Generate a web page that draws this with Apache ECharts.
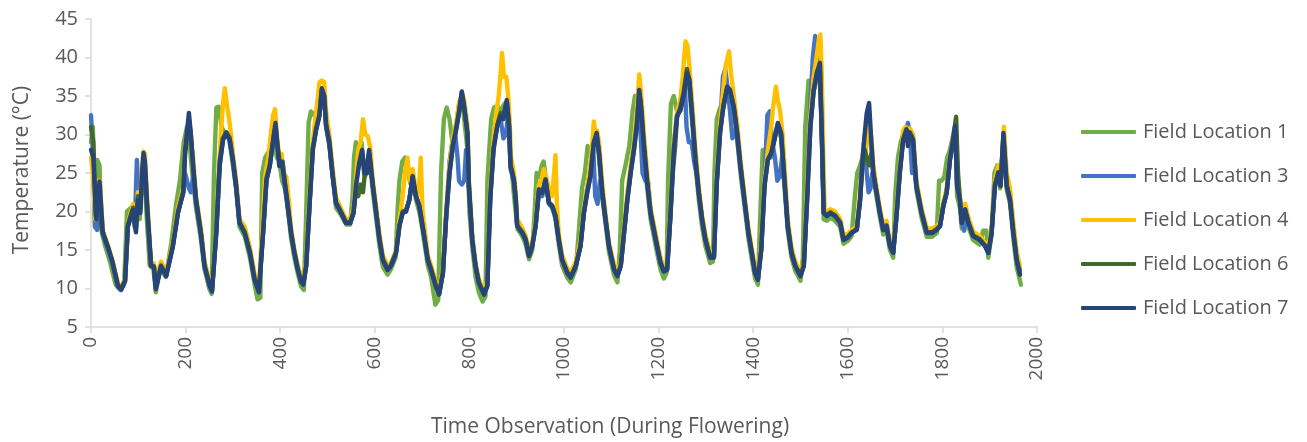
<!DOCTYPE html>
<html>
<head>
<meta charset="utf-8">
<script src="https://cdn.jsdelivr.net/npm/echarts@6/dist/echarts.min.js"></script>
<style>
  html, body { margin: 0; padding: 0; background: #fff; }
  #chart { width: 1307px; height: 442px; }
</style>
</head>
<body>
<div id="chart"></div>
<script>
// Temperature logs from five field locations during flowering: [observation, °C]
const loc1 = [[0,29],[4,31],[8,18],[13,26.7],[18,26],[22,17.5],[30,15.5],[40,13.5],[52,10.5],[62,9.8],[70,10.5],[76,20],[85,20.5],[92,18],[97,21],[103,19],[108,25],[112,26],[117,20],[124,13],[132,12.5],[137,9.5],[146,12.5],[158,11.5],[170,16],[180,21],[188,24],[196,29],[203,31],[208,29],[214,25],[222,20.5],[232,16.5],[240,12.5],[250,10],[255,9.3],[260,25],[265,33.5],[270,33.6],[276,31],[284,30],[292,29.5],[300,26],[307,22.8],[314,18],[325,16.8],[336,14],[346,10.5],[352,8.6],[358,8.8],[362,25],[368,27],[378,28],[386,30],[393,27],[398,26.5],[404,24],[410,23],[416,20.5],[423,16.5],[430,14],[437,12],[444,10.3],[450,9.8],[455,20],[460,31.5],[465,33],[472,32.5],[480,33],[488,35.5],[493,35.5],[498,31],[505,28],[512,24],[518,20.5],[529,19.5],[540,18.3],[548,18.3],[553,22],[556,27],[560,29],[566,28],[572,29],[578,24.5],[584,25],[590,26],[596,22.5],[603,19],[610,15.5],[617,12.8],[627,11.8],[634,12.5],[644,14],[648,20],[652,24],[658,26.5],[664,27],[670,25],[676,23.5],[682,23.5],[687,21.5],[694,20],[701,17.5],[712,13],[719,11.5],[728,7.9],[734,8.5],[740,25],[746,32],[752,33.5],[758,32],[765,28.5],[772,31],[778,34],[784,35],[789,32],[796,28],[800,20],[806,15.5],[813,11.5],[820,9.5],[828,8.3],[834,9],[838,24],[846,32],[852,33.5],[860,33.7],[866,33],[874,34],[880,33],[885,29],[890,25],[896,21],[902,17.7],[912,16.8],[919,15.7],[926,13.8],[933,15],[938,20],[942,25],[948,24.5],[953,26],[957,26.5],[962,24],[968,21],[975,20.5],[982,19],[989,15.7],[996,13],[1007,11.4],[1014,10.8],[1025,12.5],[1032,18],[1038,23],[1044,25],[1050,28.5],[1056,27],[1063,29],[1069,30],[1074,27],[1081,21.8],[1088,18.3],[1095,14.8],[1106,11.7],[1113,10.8],[1118,15],[1123,24],[1130,26],[1138,28.5],[1145,33],[1150,35],[1156,34],[1163,30],[1169,27],[1176,23],[1183,19],[1194,15.5],[1204,12.5],[1211,11.3],[1217,12],[1220,24],[1226,34],[1232,35],[1239,33],[1246,33],[1253,35],[1260,37.5],[1265,36],[1271,31.5],[1278,26],[1285,21.5],[1292,18],[1299,15.5],[1309,13.3],[1315,13.5],[1318,25],[1323,32],[1330,33.5],[1337,33.5],[1345,35.5],[1351,35],[1359,33],[1366,29.5],[1373,25],[1383,20],[1390,16.5],[1397,13.8],[1404,11.3],[1410,10.5],[1414,18],[1420,28],[1425,28],[1431,27],[1438,27],[1445,29.5],[1452,31],[1459,29.5],[1467,22.5],[1473,17.5],[1481,14],[1489,12.3],[1500,11],[1505,14],[1510,31],[1517,37],[1524,36.5],[1530,36],[1536,38],[1541,39],[1546,27],[1549,19],[1556,18.8],[1563,19.2],[1573,18.8],[1584,18],[1591,15.8],[1600,16.2],[1608,16.8],[1615,22],[1620,25],[1626,26],[1631,27],[1636,30],[1640,31],[1645,30],[1650,28],[1654,24.5],[1661,21.8],[1668,19.2],[1675,17],[1682,17.5],[1689,15],[1696,14],[1700,22],[1706,27],[1712,29],[1717,30],[1724,30],[1731,30.5],[1738,29],[1745,22.8],[1756,19.2],[1767,16.7],[1778,16.7],[1788,17.2],[1793,24],[1798,24],[1804,24.5],[1810,27],[1816,28],[1823,30],[1828,31.5],[1831,22],[1837,20.5],[1841,17.8],[1848,19.5],[1855,18],[1865,16.3],[1879,15.7],[1886,17.5],[1893,17.5],[1897,14],[1904,17],[1910,25],[1916,26],[1922,23],[1929,29],[1936,22.8],[1943,21],[1950,16.5],[1957,12.8],[1966,10.5]];

const loc3 = [[0,32.5],[4,28],[9,18],[13,17.6],[18,23.5],[25,17],[35,15.3],[45,13.3],[57,10.2],[64,9.8],[72,11],[78,18],[87,20],[93,19],[97,26.7],[100,26.5],[103,20],[108,24.5],[111,27],[115,25],[120,19],[127,13],[133,12.8],[137,10],[148,13.2],[159,11.8],[173,15.6],[184,20],[195,22.5],[199,25],[203,24],[207,23],[211,22.5],[216,24.5],[222,21],[232,17.5],[240,13.3],[251,10.5],[256,10],[265,17.5],[272,26],[279,29.3],[286,30.2],[293,29.5],[300,26.5],[307,23],[314,18.5],[325,17.5],[336,15],[346,11.5],[355,10],[364,17.5],[371,24],[378,26],[387,30.3],[390,31.3],[395,28],[400,26],[405,26.5],[409,24],[416,20.5],[423,17.3],[430,14.8],[437,12.8],[444,11.5],[449,10.8],[455,13],[462,21],[469,28.5],[476,30.8],[483,32.6],[488,35.7],[493,35],[497,31],[504,28.7],[511,24.5],[518,21],[529,19.8],[539,18.5],[548,18.5],[555,19.8],[560,23.3],[567,26.5],[573,28],[578,25.5],[583,25],[588,27.8],[596,23.3],[603,19.8],[610,16.3],[617,13.8],[627,12.5],[634,13],[645,14.7],[652,18.3],[659,20],[666,20.2],[673,21.5],[680,24.5],[687,22],[694,20.7],[701,18.2],[712,13.8],[719,12.5],[729,10.4],[736,9.4],[744,12],[751,19.5],[758,26.5],[765,29.5],[770,30],[775,27],[778,24],[784,23.5],[789,24],[793,28],[796,27],[799,23],[806,16.3],[813,12.9],[820,10.8],[831,9.4],[838,10.5],[844,22],[851,28.5],[859,31.5],[866,32],[872,29.5],[877,30],[881,32],[884,30.5],[887,25.5],[894,24],[898,21.5],[901,18.2],[912,17.2],[919,16.4],[926,14.3],[933,15.6],[940,18.2],[947,22.5],[954,22],[961,23.8],[968,21.2],[975,20.6],[982,19.3],[989,16.3],[996,13.8],[1007,12.1],[1014,11.5],[1025,13],[1035,15.6],[1042,19.8],[1049,23],[1056,25.5],[1062,28],[1066,22],[1071,21],[1076,24],[1081,22],[1088,18.8],[1095,15.5],[1106,12.5],[1113,11.7],[1120,13],[1127,17.3],[1134,21.8],[1141,25.5],[1148,29],[1153,31],[1158,34],[1162,30],[1166,25],[1172,24],[1178,23.8],[1183,19.8],[1194,16.3],[1204,13.3],[1211,12.3],[1218,12.5],[1225,19.5],[1232,28.5],[1239,32.5],[1246,34],[1251,36.5],[1255,37.5],[1259,31],[1264,29],[1270,29],[1275,26.5],[1280,25],[1285,22.4],[1292,19],[1299,16.4],[1309,14.1],[1317,14.1],[1323,24],[1330,31],[1336,37.5],[1341,38.5],[1346,36],[1351,33],[1356,29.5],[1361,30.5],[1366,29.5],[1373,25.8],[1383,20.7],[1390,17.2],[1397,14.6],[1404,12.1],[1410,11.2],[1417,15.2],[1424,24],[1430,32.5],[1435,33],[1440,29],[1446,27],[1451,24],[1456,24.5],[1461,27],[1467,23],[1473,18.1],[1481,14.7],[1489,13],[1500,11.7],[1507,13],[1514,22],[1521,34],[1526,40],[1531,42.8],[1536,40],[1541,38],[1546,28],[1549,19.8],[1556,19.5],[1563,19.9],[1573,19.5],[1584,18.5],[1591,16.4],[1600,16.7],[1608,17.3],[1619,17.7],[1626,21.5],[1631,26.5],[1636,29],[1640,25],[1644,22.5],[1648,23],[1652,25],[1656,24],[1661,22.4],[1668,19.8],[1675,17.6],[1682,18.1],[1689,15.6],[1696,14.7],[1703,19.5],[1710,25.5],[1717,29.5],[1724,30.8],[1727,31.5],[1731,30.2],[1736,25],[1740,26],[1745,23.3],[1756,19.8],[1767,17.3],[1778,17.3],[1788,17.6],[1795,18.1],[1802,20.7],[1809,22.5],[1816,27],[1823,29.5],[1827,30.5],[1831,23.5],[1837,21.7],[1841,18.6],[1846,17.5],[1850,19.5],[1855,18.6],[1865,16.9],[1879,16.4],[1890,15.6],[1897,14.7],[1904,17.3],[1911,23.4],[1918,25],[1923,23.5],[1929,29.8],[1936,23.5],[1943,21.7],[1950,17.5],[1957,14],[1964,12.5]];

const loc4 = [[0,27],[4,25],[9,19],[14,24],[19,24],[25,17.5],[35,15.7],[45,13.7],[57,10.7],[64,10.2],[72,11.3],[78,18.5],[89,21],[95,18],[99,22.5],[104,21],[108,26],[111,27.8],[114,27.5],[118,22.5],[127,13.3],[133,13.3],[137,11],[148,13.5],[159,12],[173,16],[184,20.5],[195,23],[199,28.5],[207,31],[211,30.8],[216,27],[222,22],[232,18],[240,13.5],[251,10.8],[256,10.2],[265,17.8],[270,25],[275,30.5],[279,34],[283,36],[287,34],[292,32],[296,30],[300,27.5],[307,24],[314,19],[325,18],[336,15.3],[346,11.8],[355,10.2],[362,17.5],[368,24.5],[375,27],[380,30],[385,32.5],[389,33.3],[393,30],[398,27],[403,27.5],[407,25],[413,24.5],[418,21.5],[423,17.8],[430,15],[437,13],[444,11.5],[449,11],[455,13.5],[462,22],[469,29],[474,32],[478,34],[483,36.8],[488,37],[493,36.8],[497,33],[504,29.8],[511,25.5],[518,21.8],[529,20.3],[539,19],[548,19],[555,20.5],[560,24],[565,28],[570,29],[575,32],[580,30],[585,29.8],[590,28.5],[596,24],[603,20.5],[610,17],[617,14.3],[627,13],[634,13.3],[645,15],[652,18.8],[659,22],[664,25],[669,27],[674,24],[680,25.5],[685,23.5],[690,22],[694,23.5],[697,27],[701,20],[712,14.3],[719,13],[729,10.8],[736,9.8],[744,12.5],[751,20],[758,26],[765,29.5],[772,31.5],[778,34],[784,35.3],[789,34.5],[796,31],[799,24],[806,17],[813,13.3],[820,11.2],[831,9.7],[838,11],[844,22.5],[851,29.5],[857,33],[862,35],[866,38],[869,40.6],[873,37.5],[878,37.5],[882,35],[885,32],[888,27],[894,25],[898,22.5],[901,19],[912,17.8],[919,16.8],[926,14.8],[933,16],[940,19],[947,23.5],[952,24],[957,25.5],[962,24.5],[968,23],[975,22],[982,27.3],[985,21],[989,17],[996,14.3],[1007,12.6],[1014,12],[1025,13.5],[1035,16.2],[1042,20.5],[1049,23.2],[1056,26.5],[1060,29],[1063,31.7],[1067,30],[1070,30.5],[1074,29],[1081,23.5],[1088,19.5],[1095,16],[1106,13],[1113,12.2],[1120,13.5],[1127,18],[1134,22.5],[1141,26],[1148,29],[1154,33],[1159,37.8],[1163,35.5],[1169,30],[1176,25],[1183,20.5],[1194,17],[1204,14],[1211,12.8],[1218,13],[1225,20],[1232,28.8],[1239,33],[1246,34.5],[1251,37.5],[1254,40],[1257,42.1],[1261,41.5],[1265,39],[1271,34],[1278,28],[1285,23.2],[1292,19.5],[1299,17],[1309,14.6],[1317,14.6],[1323,24.5],[1330,31.5],[1337,36],[1342,39],[1346,40],[1349,40.8],[1353,38],[1359,35],[1366,31.5],[1373,26.8],[1383,21.3],[1390,17.8],[1397,15.2],[1404,12.6],[1410,11.8],[1417,16],[1424,24],[1431,28],[1438,31],[1442,33.5],[1448,36.2],[1452,34.5],[1457,33],[1462,30],[1467,25],[1473,19],[1481,15.3],[1489,13.5],[1500,12.2],[1507,13.5],[1514,23],[1521,32.5],[1528,37.5],[1535,40.5],[1539,42.5],[1542,43],[1545,38],[1548,28],[1551,20.2],[1556,20],[1563,20.3],[1573,20],[1584,19],[1591,17],[1600,17.1],[1608,17.6],[1619,18],[1626,22.5],[1633,28],[1637,27],[1640,30],[1645,31],[1650,29.5],[1654,26],[1661,23],[1668,20.3],[1675,18.2],[1682,18.8],[1689,16],[1696,15.2],[1703,20],[1710,25.5],[1717,30.5],[1722,31],[1727,29.5],[1731,30.8],[1738,30],[1745,24],[1756,20.4],[1767,17.8],[1778,17.8],[1788,18.1],[1795,18.6],[1802,21.2],[1809,23],[1816,27],[1823,29.5],[1827,30.5],[1831,25],[1837,22],[1841,19.5],[1848,21],[1855,19.2],[1865,17.4],[1879,16.8],[1890,16],[1897,15.3],[1904,17.8],[1911,24],[1918,26],[1923,24],[1930,31],[1936,25],[1943,23],[1950,18.5],[1957,14.8],[1964,12.8]];

const loc6 = [[0,31],[5,29],[10,19.5],[16,22],[22,18],[28,16.8],[35,15.6],[45,13.6],[57,10.4],[64,10],[72,11],[78,18.3],[89,20.5],[95,17.5],[99,22],[104,20],[108,24.5],[111,26.8],[114,26],[118,21],[127,13],[133,12.9],[137,10.2],[148,13],[159,11.7],[173,15.6],[184,20],[195,22.6],[199,27.5],[207,31.8],[211,30],[216,25.8],[222,21.6],[232,17.4],[240,13],[251,10.4],[256,9.8],[265,17.6],[272,26.5],[279,29.5],[286,30.3],[293,29.6],[300,26.7],[307,23.3],[314,18.6],[325,17.3],[336,14.7],[346,11.2],[355,9.6],[364,17.5],[371,24.3],[378,26],[387,30],[390,31],[395,28.2],[400,26],[405,26.5],[409,24.2],[416,20.8],[423,17.3],[430,14.7],[437,12.6],[444,11],[449,10.6],[455,13],[462,21],[469,28.2],[476,30.8],[483,32.6],[488,35.8],[493,35],[497,31.3],[504,29],[511,24.7],[518,21.2],[529,19.9],[539,18.6],[548,18.6],[555,19.9],[560,22.5],[565,22],[570,23.5],[575,22.5],[580,25.5],[588,27.5],[596,23.3],[603,19.9],[610,16.4],[617,13.8],[627,12.5],[634,13],[645,14.7],[652,18.2],[659,20],[666,20],[673,21.5],[680,24.5],[687,22],[694,20.8],[701,18.2],[712,13.8],[719,12.5],[729,10.4],[736,9.3],[744,12.1],[751,19.5],[758,25],[765,28.6],[772,30.8],[779,33.3],[784,35.4],[789,33.5],[796,30],[799,23.4],[806,16.4],[813,13],[820,10.8],[831,9.3],[838,10.4],[844,21.6],[851,28.2],[859,31.2],[866,32.8],[872,32.5],[879,34.3],[884,31],[887,26],[894,24.2],[898,21.6],[901,18.2],[912,17.3],[919,16.4],[926,14.3],[933,15.6],[940,18.2],[947,22.9],[954,22.5],[961,24.2],[968,21.2],[975,20.8],[982,19.5],[989,16.4],[996,13.8],[1007,12.1],[1014,11.5],[1025,13],[1035,15.6],[1042,19.9],[1049,22.5],[1056,24.7],[1063,29],[1069,30],[1074,27.7],[1081,22.5],[1088,19],[1095,15.6],[1106,12.5],[1113,11.7],[1120,13],[1127,17.3],[1134,21.6],[1141,25.1],[1148,28.1],[1154,31.5],[1159,35.5],[1163,33.5],[1169,28.6],[1176,23.8],[1183,19.9],[1194,16.4],[1204,13.4],[1211,12.3],[1218,12.5],[1225,19.5],[1230,25],[1235,28.5],[1239,32.2],[1246,33.5],[1253,35.5],[1260,38.5],[1265,37],[1271,32.5],[1278,26.8],[1285,22.5],[1292,19],[1299,16.4],[1309,14.1],[1317,14.1],[1323,23.8],[1330,30.3],[1337,33.8],[1345,36],[1351,35.6],[1359,33.5],[1366,30.3],[1373,26],[1383,20.8],[1390,17.3],[1397,14.7],[1404,12.1],[1410,11.2],[1417,15.1],[1424,23.4],[1431,26.8],[1438,27.5],[1445,29.5],[1452,31.3],[1459,30],[1467,23.4],[1473,18.2],[1481,14.7],[1489,13],[1500,11.7],[1507,13],[1514,21.6],[1521,31.2],[1528,35.8],[1535,38.2],[1541,39],[1546,28],[1549,19.9],[1556,19.5],[1563,19.9],[1573,19.5],[1584,18.6],[1591,16.4],[1600,16.7],[1608,17.3],[1619,17.7],[1626,21.6],[1631,26],[1636,28],[1640,27],[1645,26],[1650,27.5],[1654,25],[1661,22.5],[1668,19.9],[1675,17.7],[1682,18.2],[1689,15.6],[1696,14.7],[1703,19.5],[1710,25.1],[1717,29.4],[1724,30.7],[1727,29],[1731,30.3],[1738,29.4],[1745,23.4],[1756,19.9],[1767,17.3],[1778,17.3],[1788,17.7],[1795,18.2],[1802,20.8],[1809,22.5],[1816,26.8],[1823,29.5],[1829,32.3],[1833,25],[1837,21.6],[1841,18.6],[1848,20.3],[1855,18.6],[1865,16.9],[1879,16.4],[1890,15.6],[1897,14.7],[1904,17.3],[1911,23.4],[1918,25.1],[1923,23.4],[1929,29.8],[1936,23.4],[1943,21.6],[1950,17.3],[1957,13.8],[1964,11.9]];

const loc7 = [[0,28],[5,27],[11,19],[18,23.9],[25,17.2],[35,15.5],[45,13.5],[57,10.3],[64,9.9],[72,11],[78,18.1],[89,20.2],[95,17.3],[99,21.5],[104,19.8],[108,25],[111,27.6],[114,26.5],[118,21.5],[127,12.9],[133,12.8],[137,9.9],[148,12.9],[159,11.6],[173,15.4],[184,19.8],[195,22.4],[199,28],[207,32.8],[211,30.2],[216,25.9],[222,21.5],[232,17.3],[240,12.9],[251,10.3],[256,9.6],[265,17.3],[272,25.9],[279,29.3],[286,30.2],[293,29.3],[300,26.7],[307,23.2],[314,18.5],[325,17.2],[336,14.6],[346,11.1],[355,9.5],[364,17.3],[371,24.1],[378,25.9],[387,30.2],[390,31.5],[395,28],[398,25.9],[403,26.4],[409,24.1],[416,20.7],[423,17.2],[430,14.6],[437,12.5],[444,10.9],[449,10.5],[455,12.9],[462,20.7],[469,28],[476,30.6],[483,32.4],[488,36],[493,35],[497,31.1],[504,28.9],[511,24.6],[518,21.1],[529,19.8],[539,18.5],[548,18.5],[555,19.8],[560,23.3],[567,26.3],[573,28],[578,25],[583,25],[588,28],[596,23.3],[603,19.8],[610,16.3],[617,13.7],[627,12.4],[634,12.9],[645,14.6],[652,18.1],[659,19.8],[666,20],[673,21.5],[680,24.6],[687,22],[694,20.7],[701,18.1],[712,13.7],[719,12.4],[729,10.3],[736,9.2],[744,12],[751,19.4],[758,25],[765,28.5],[772,30.6],[779,33.2],[784,35.6],[789,33.6],[796,30.2],[799,23.3],[806,16.3],[813,12.9],[820,10.7],[831,9.2],[838,10.3],[844,21.5],[851,28],[859,31.1],[866,32.4],[872,32],[879,34.5],[884,31.1],[887,25.9],[894,24.1],[898,21.5],[901,18.1],[912,17.2],[919,16.3],[926,14.2],[933,15.5],[940,18.1],[947,22.8],[954,22.4],[961,24.1],[968,21.1],[975,20.7],[982,19.4],[989,16.3],[996,13.7],[1007,12],[1014,11.4],[1025,12.9],[1035,15.5],[1042,19.8],[1049,22.4],[1056,24.6],[1063,28.9],[1069,30.2],[1074,27.6],[1081,22.4],[1088,18.9],[1095,15.5],[1106,12.4],[1113,11.6],[1120,12.9],[1127,17.2],[1134,21.5],[1141,25],[1148,28],[1154,31.1],[1159,35.8],[1163,33.6],[1169,28.5],[1176,23.7],[1183,19.8],[1194,16.3],[1204,13.3],[1211,12.2],[1218,12.4],[1225,19.4],[1232,28],[1239,32.4],[1246,33.2],[1253,35],[1260,38],[1265,37.1],[1271,32.4],[1278,26.7],[1285,22.4],[1292,18.9],[1299,16.3],[1309,14],[1317,14],[1323,23.7],[1330,30.2],[1337,33.6],[1345,36.2],[1351,35.8],[1359,33.6],[1366,30.2],[1373,25.9],[1383,20.7],[1390,17.2],[1397,14.6],[1404,12],[1410,11.1],[1417,15],[1424,23.3],[1431,26.7],[1438,27.6],[1445,29.3],[1452,31.5],[1459,30.2],[1467,23.3],[1473,18.1],[1481,14.6],[1489,12.9],[1500,11.6],[1507,12.9],[1514,21.5],[1521,31.1],[1528,35.8],[1535,38],[1541,39.3],[1546,28],[1549,19.8],[1556,19.4],[1563,19.8],[1573,19.4],[1584,18.5],[1591,16.3],[1600,16.6],[1608,17.2],[1619,17.6],[1626,21.5],[1631,26.7],[1636,30.2],[1640,32.8],[1645,34.1],[1650,28.9],[1654,25],[1661,22.4],[1668,19.8],[1675,17.6],[1682,18.1],[1689,15.5],[1696,14.6],[1703,19.4],[1710,25],[1717,29.3],[1724,30.6],[1727,28.5],[1731,30.2],[1738,29.3],[1745,23.3],[1756,19.8],[1767,17.2],[1778,17.2],[1788,17.6],[1795,18.1],[1802,20.7],[1809,22.4],[1816,26.7],[1823,29.3],[1827,31.1],[1831,23.3],[1837,21.5],[1841,18.5],[1848,20.2],[1855,18.5],[1865,16.8],[1879,16.3],[1890,15.5],[1897,14.6],[1904,17.2],[1911,23.3],[1918,25],[1923,23.3],[1929,30.2],[1936,23.3],[1943,21.5],[1950,17.2],[1957,13.7],[1964,11.8]];

const seriesNames = ['Field Location 1', 'Field Location 3', 'Field Location 4', 'Field Location 6', 'Field Location 7'];
const seriesData = [loc1, loc3, loc4, loc6, loc7];
const seriesColors = ['#70AD47', '#4472C4', '#FFC000', '#43682B', '#264478'];

const xTicks = { min: 0, max: 2000, step: 200 };
const yTicks = { min: 5, max: 45, step: 5 };

const FONT = "'Open Sans', 'Noto Sans', sans-serif";
const TEXT = '#595959';
const AXIS = '#D9D9D9';

const chart = echarts.init(document.getElementById('chart'), null, { renderer: 'canvas' });

chart.setOption({
  backgroundColor: '#ffffff',
  animation: false,
  grid: { left: 91, right: 270, top: 19, bottom: 115, containLabel: false },
  legend: {
    orient: 'vertical',
    left: 1076,
    top: 117,
    itemWidth: 55,
    itemHeight: 4,
    itemGap: 24,
    icon: 'roundRect',
    textStyle: { fontFamily: FONT, fontSize: 20, color: TEXT, padding: [0, 0, 0, 2] },
    data: seriesNames
  },
  xAxis: {
    type: 'value',
    min: xTicks.min,
    max: xTicks.max,
    interval: xTicks.step,
    splitLine: { show: false },
    axisLine: { lineStyle: { color: AXIS, width: 1.5 } },
    axisTick: { show: true, length: 6, lineStyle: { color: AXIS, width: 1.5 } },
    axisLabel: {
      rotate: 90, margin: 10, fontFamily: FONT, fontSize: 19, color: TEXT,
      formatter: (v) => String(v)
    }
  },
  yAxis: {
    type: 'value',
    min: yTicks.min,
    max: yTicks.max,
    interval: yTicks.step,
    splitLine: { show: false },
    axisLine: { show: true, onZero: false, lineStyle: { color: AXIS, width: 1.5 } },
    axisTick: { show: true, length: 6, lineStyle: { color: AXIS, width: 1.5 } },
    axisLabel: { margin: 13, fontFamily: FONT, fontSize: 20, color: TEXT }
  },
  graphic: [
    {
      type: 'text',
      x: 610, y: 427,
      style: {
        text: 'Time Observation (During Flowering)',
        fontFamily: FONT, fontSize: 21, fill: TEXT,
        textAlign: 'center', textVerticalAlign: 'middle'
      }
    },
    {
      type: 'text',
      x: 22, y: 170,
      rotation: Math.PI / 2,
      style: {
        text: 'Temperature (°C)',
        fontFamily: FONT, fontSize: 21, fill: TEXT,
        textAlign: 'center', textVerticalAlign: 'middle'
      }
    }
  ],
  series: seriesNames.map((name, i) => ({
    name,
    type: 'line',
    data: seriesData[i],
    symbol: 'none',
    showSymbol: false,
    smooth: false,
    color: seriesColors[i],
    lineStyle: { width: 4.4, color: seriesColors[i], cap: 'round', join: 'round' },
    itemStyle: { color: seriesColors[i] },
    z: 2 + i
  }))
});
</script>
</body>
</html>
